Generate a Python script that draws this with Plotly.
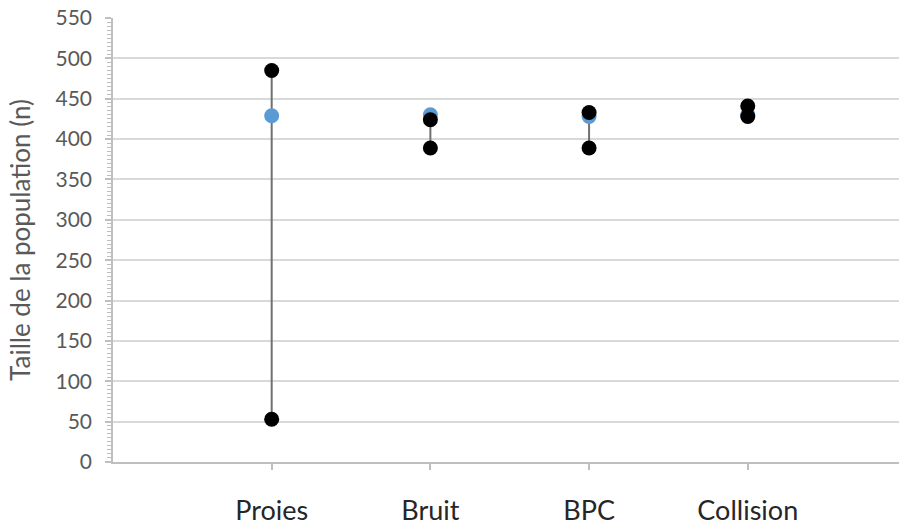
import plotly.graph_objects as go

categories = ["Proies", "Bruit", "BPC", "Collision"]
high_values = [485, 424, 433, 441]
low_values = [53, 389, 389, 428]
mid_values = [429, 430, 428, 430]

FONT = "Lato"

# high-low connecting lines (one segment per category)
line_x, line_y = [], []
for c, lo, hi in zip(categories, low_values, high_values):
    line_x += [c, c, None]
    line_y += [lo, hi, None]

fig = go.Figure()
fig.add_trace(go.Scatter(x=line_x, y=line_y, mode="lines",
                         line=dict(color="#707070", width=2),
                         hoverinfo="skip", showlegend=False))
fig.add_trace(go.Scatter(x=categories, y=mid_values, mode="markers",
                         marker=dict(color="#5B9BD5", size=15),
                         showlegend=False))
fig.add_trace(go.Scatter(x=categories, y=high_values, mode="markers",
                         marker=dict(color="#000000", size=15),
                         showlegend=False))
fig.add_trace(go.Scatter(x=categories, y=low_values, mode="markers",
                         marker=dict(color="#000000", size=15),
                         showlegend=False))

fig.update_layout(
    template="none",
    width=899, height=525,
    margin=dict(l=113, r=0, t=18, b=63, pad=0),
    paper_bgcolor="white", plot_bgcolor="white",
    font=dict(family=FONT, color="#595959"),
    showlegend=False,
)
fig.update_xaxes(
    type="category", categoryorder="array", categoryarray=categories,
    range=[-1, 3.953], automargin=False,
    showgrid=False, zeroline=False,
    showline=True, linecolor="#bfbfbf", linewidth=1.5,
    ticks="outside", ticklen=6, tickcolor="#bfbfbf", tickwidth=1.5,
    tickfont=dict(family=FONT, size=27, color="#262626"),
    ticklabelstandoff=18,
)
fig.update_yaxes(
    range=[0, 550], dtick=50, tick0=0, automargin=False,
    showgrid=True, gridcolor="#d9d9d9", gridwidth=1.5,
    zeroline=False,
    showline=True, linecolor="#bfbfbf", linewidth=1.5,
    ticks="outside", ticklen=6, tickcolor="#bfbfbf", tickwidth=1.5,
    minor=dict(dtick=5, ticks="outside", ticklen=4, tickcolor="#bfbfbf",
               tickwidth=1, showgrid=False),
    tickfont=dict(family=FONT, size=21, color="#595959"),
    ticklabelstandoff=9,
    title=dict(text="Taille de la population (n)",
               font=dict(family=FONT, size=26, color="#595959"),
               standoff=17),
)

fig.write_html(
    "out.html",
    config={"responsive": False, "displayModeBar": False},
    post_script="document.body.style.margin='0';document.body.style.overflow='hidden';",
)
